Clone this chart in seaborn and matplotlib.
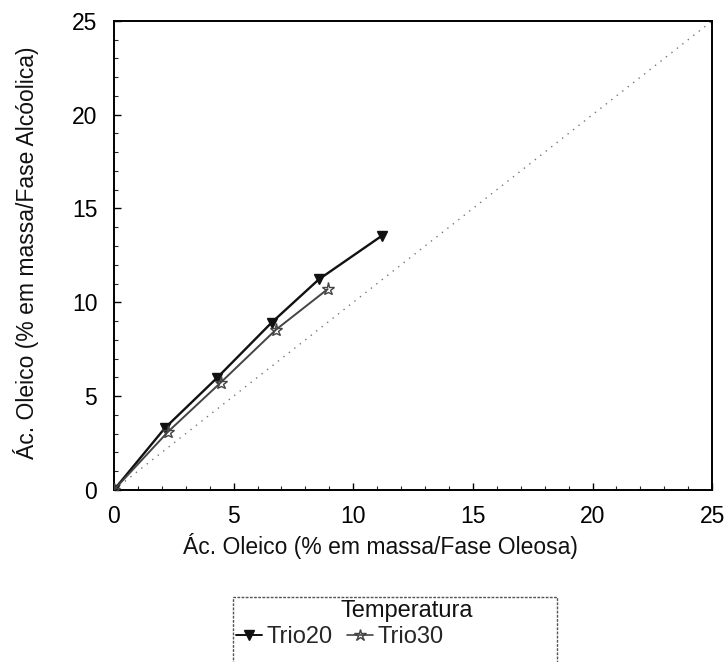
import matplotlib
matplotlib.use("Agg")
import matplotlib.pyplot as plt
from matplotlib.patches import Rectangle
from matplotlib.lines import Line2D
import seaborn as sns
import pandas as pd

# Data
trio20_x = [0.0, 2.13, 4.29, 6.59, 8.57, 11.19]
trio20_y = [0.0, 3.30, 5.95, 8.92, 11.23, 13.54]
trio30_x = [0.0, 2.26, 4.46, 6.76, 8.93]
trio30_y = [0.0, 3.10, 5.72, 8.53, 10.70]
diag_x = [0, 25]
diag_y = [0, 25]
series_names = ["Trio20", "Trio30"]
legend_title = "Temperatura"
xlabel = "Ác. Oleico (% em massa/Fase Oleosa)"
ylabel = "Ác. Oleico (% em massa/Fase Alcóolica)"
ticks = [0, 5, 10, 15, 20, 25]

sns.set_theme(style="white")
plt.rcParams["font.family"] = ["Liberation Sans", "DejaVu Sans"]

df = pd.DataFrame({
    "x": trio20_x + trio30_x,
    "y": trio20_y + trio30_y,
    "serie": [series_names[0]] * len(trio20_x) + [series_names[1]] * len(trio30_x),
})
diag = pd.DataFrame({"x": diag_x, "y": diag_y})

fig = plt.figure(figsize=(7.26, 6.62), dpi=100)
ax = fig.add_axes([0.157, 0.260, 0.824, 0.7085])

sns.lineplot(data=diag, x="x", y="y", ax=ax, color="#777777", lw=1.0,
             linestyle=(0, (1, 4)), sort=False)

colors = {"Trio20": "#111111", "Trio30": "#444444"}
markers = {"Trio20": "v", "Trio30": "*"}
lws = {"Trio20": 1.7, "Trio30": 1.4}
for name in series_names:
    sub = df[df["serie"] == name]
    sns.lineplot(data=sub, x="x", y="y", ax=ax, color=colors[name], lw=lws[name],
                 marker=markers[name], markersize=7.5 if name == "Trio20" else 9.5,
                 markerfacecolor=colors[name] if name == "Trio20" else "none",
                 markeredgecolor=colors[name], markeredgewidth=1.0,
                 sort=False, zorder=3)

ax.set_xlim(0, 25)
ax.set_ylim(0, 25)
ax.set_xticks(ticks)
ax.set_yticks(ticks)
ax.set_xticks(range(0, 26), minor=True)
ax.set_yticks(range(0, 26), minor=True)
ax.tick_params(axis="both", which="major", direction="in", length=5, width=1,
               labelsize=16.5, colors="black", bottom=True, left=True, top=False, right=False)
ax.tick_params(axis="x", which="major", pad=11)
ax.tick_params(axis="y", which="major", pad=12)
ax.tick_params(axis="both", which="minor", direction="in", length=3, width=0.8,
               bottom=True, left=True, top=False, right=False)
for s in ax.spines.values():
    s.set_color("black")
    s.set_linewidth(1.4)

ax.set_xlabel(xlabel, fontsize=16.5, color="#111111")
ax.set_ylabel(ylabel, fontsize=16.5, color="#111111")
ax.xaxis.set_label_coords(0.445, -0.092)
ax.yaxis.set_label_coords(-0.125, 0.505)
if ax.get_legend() is not None:
    ax.get_legend().remove()

handles = [
    Line2D([0], [0], color=colors["Trio20"], lw=1.4, marker="v", markersize=7,
           markerfacecolor=colors["Trio20"], markeredgecolor=colors["Trio20"]),
    Line2D([0], [0], color=colors["Trio30"], lw=1.2, marker="*", markersize=9,
           markerfacecolor="none", markeredgecolor=colors["Trio30"]),
]
fig.text(407 / 726, 1 - 611 / 662, legend_title, ha="center", va="center",
         fontsize=17, color="#111111")
leg = fig.legend(handles, series_names, ncol=2,
                 loc="center left", bbox_to_anchor=(236 / 726, 1 - 637 / 662), frameon=False,
                 fontsize=17, handlelength=1.1, handletextpad=0.2,
                 columnspacing=0.6, borderpad=0.0, borderaxespad=0.0)
fig.patches.append(Rectangle((233 / 726, 1 - 700 / 662), (557 - 233) / 726, (700 - 597) / 662,
                             transform=fig.transFigure, fill=False, edgecolor="#555555",
                             lw=1.0, linestyle=(0, (2, 1))))

fig.savefig("out.png", dpi=100)
